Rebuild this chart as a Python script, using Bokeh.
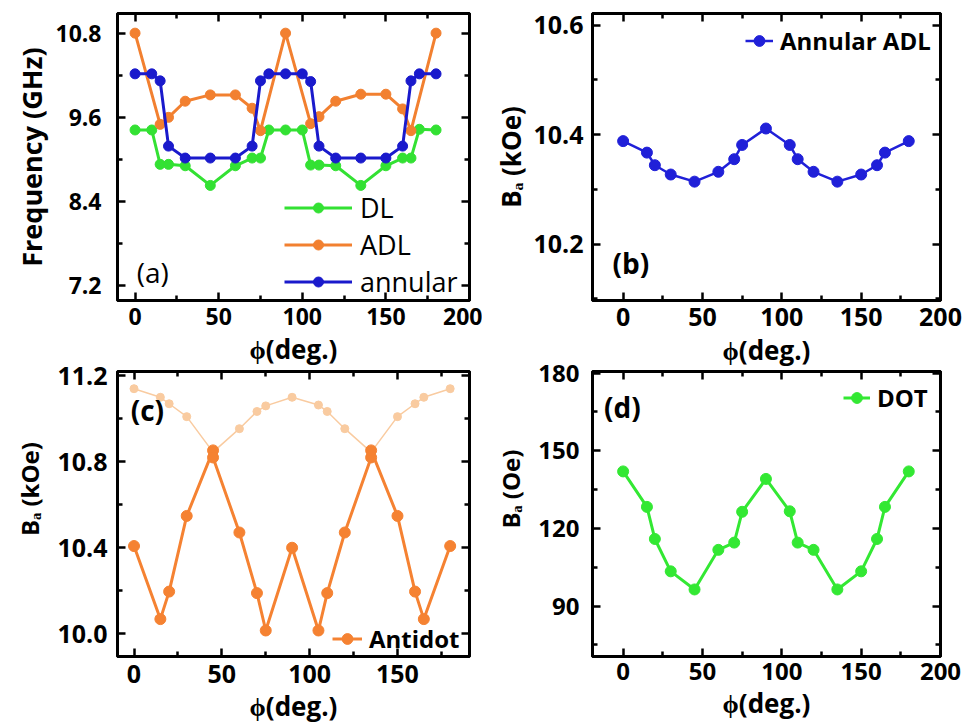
from bokeh.plotting import figure
from bokeh.models import (LinearAxis, FixedTicker, Legend, LegendItem, Label, Range1d,
                          CustomLabelingPolicy, GridBox)
from bokeh.embed import file_html
from bokeh.resources import INLINE

FONT = "Open Sans"

# ---------------- data ----------------
# panel (a)
a_phi_dl = [0, 10, 15, 20, 30, 45, 60, 70, 75, 80, 90, 100, 105, 110, 120, 135, 150, 160, 165, 170, 180]
a_f_dl = [9.42, 9.42, 8.93, 8.93, 8.91, 8.63, 8.91, 9.02, 9.02, 9.42, 9.42, 9.42, 8.92, 8.92, 8.91, 8.63, 8.91, 9.02, 9.02, 9.43, 9.42]
a_phi_adl = [0, 15, 20, 30, 45, 60, 70, 75, 90, 105, 110, 120, 135, 150, 160, 165, 180]
a_f_adl = [10.8, 9.5, 9.6, 9.83, 9.92, 9.92, 9.73, 9.41, 10.8, 9.51, 9.61, 9.83, 9.93, 9.93, 9.72, 9.41, 10.8]
a_phi_ann = [0, 10, 15, 20, 30, 45, 60, 70, 75, 80, 90, 100, 105, 110, 120, 135, 150, 160, 165, 170, 180]
a_f_ann = [10.22, 10.22, 10.12, 9.19, 9.02, 9.02, 9.02, 9.19, 10.12, 10.22, 10.22, 10.22, 10.11, 9.19, 9.02, 9.02, 9.02, 9.19, 10.12, 10.22, 10.22]
a_yticks = [7.2, 8.4, 9.6, 10.8]
a_ytick_labels = ["7.2", "8.4", "9.6", "10.8"]

# panel (b)
b_phi = [0, 15, 20, 30, 45, 60, 70, 75, 90, 105, 110, 120, 135, 150, 160, 165, 180]
b_ba = [10.388, 10.367, 10.344, 10.327, 10.314, 10.332, 10.355, 10.381, 10.411, 10.381, 10.355, 10.332, 10.314, 10.327, 10.344, 10.367, 10.388]
b_yticks = [10.2, 10.4, 10.6]
b_ytick_labels = ["10.2", "10.4", "10.6"]

# panel (c)
c_phi = [0, 15, 20, 30, 45, 45, 60, 70, 75, 90, 105, 110, 120, 135, 135, 150, 160, 165, 180]
c_ba = [10.408, 10.068, 10.196, 10.548, 10.853, 10.82, 10.471, 10.189, 10.015, 10.40, 10.015, 10.189, 10.471, 10.82, 10.853, 10.548, 10.196, 10.068, 10.408]
c_phi_light = [0, 15, 20, 30, 45, 60, 70, 75, 90, 105, 110, 120, 135, 150, 160, 165, 180]
c_ba_light = [11.14, 11.10, 11.07, 11.01, 10.845, 10.954, 11.034, 11.06, 11.10, 11.064, 11.034, 10.954, 10.845, 11.01, 11.07, 11.10, 11.14]
c_yticks = [10.0, 10.4, 10.8, 11.2]
c_ytick_labels = ["10.0", "10.4", "10.8", "11.2"]

# panel (d)
d_phi = [0, 15, 20, 30, 45, 60, 70, 75, 90, 105, 110, 120, 135, 150, 160, 165, 180]
d_ba = [142, 128.3, 115.9, 103.4, 96.4, 111.7, 114.5, 126.4, 139.1, 126.6, 114.5, 111.7, 96.4, 103.4, 115.9, 128.3, 142]
d_yticks = [90, 120, 150, 180]
d_ytick_labels = ["90", "120", "150", "180"]

xticks = [0, 50, 100, 150, 200]
xtick_labels = ["0", "50", "100", "150", "200"]

GREEN = "#33e133"
ORANGE = "#f28030"
BLUE = "#1a1acc"
LIGHT = "#f9cba0"


def minors(t):
    step = t[1] - t[0]
    return [t[0] - step / 2] + [(t[i] + t[i + 1]) / 2 for i in range(len(t) - 1)] + [t[-1] + step / 2]


HIDE = "for (const i of [...indices]) { indices.unset(i) } return indices"


def make_fig(width, height, borders, xr, yr, yticks, ylabels, ylabel, tick_size="24px",
             ylab_size="24px", xlab_size="26px", ystand=14, ylabstand=4, xstand=7, xlabstand=3):
    l, r, t, b = borders
    p = figure(width=width, height=height, x_range=Range1d(*xr), y_range=Range1d(*yr),
               output_backend="svg", toolbar_location=None,
               min_border_left=l, min_border_right=r, min_border_top=t, min_border_bottom=b)
    p.grid.visible = False
    p.outline_line_color = "black"
    p.outline_line_width = 3
    p.background_fill_color = "white"
    p.border_fill_alpha = 0
    xt = FixedTicker(ticks=xticks, minor_ticks=minors(xticks))
    yt = FixedTicker(ticks=yticks, minor_ticks=minors(yticks))
    p.add_layout(LinearAxis(), "above")
    p.add_layout(LinearAxis(), "right")
    for ax in p.xaxis:
        ax.ticker = xt
    for ax in p.yaxis:
        ax.ticker = yt
    for ax in list(p.xaxis) + list(p.yaxis):
        ax.axis_line_width = 3
        ax.axis_line_color = "black"
        ax.major_tick_in = 8
        ax.major_tick_out = 0
        ax.minor_tick_in = 5
        ax.minor_tick_out = 0
        ax.major_tick_line_width = 2.5
        ax.minor_tick_line_width = 2.5
        ax.major_tick_line_color = "black"
        ax.minor_tick_line_color = "black"
        ax.major_label_text_font = FONT
        ax.major_label_text_font_style = "bold"
        ax.major_label_text_color = "black"
        ax.axis_label_text_font = FONT
        ax.axis_label_text_font_style = "bold"
        ax.axis_label_text_color = "black"
    for ax in (p.above[0], p.right[0]):
        ax.major_label_text_font_size = "0px"
        ax.major_label_standoff = 0
        ax.major_label_policy = CustomLabelingPolicy(code=HIDE)
    bx = p.below[0]
    bx.major_label_text_font_size = tick_size
    bx.major_label_overrides = dict(zip(xticks, xtick_labels))
    bx.major_label_standoff = xstand
    bx.axis_label = "\u03d5(deg.)"
    bx.axis_label_text_font_size = xlab_size
    bx.axis_label_standoff = xlabstand
    ly = p.left[0]
    ly.major_label_text_font_size = tick_size
    ly.major_label_overrides = dict(zip(yticks, ylabels))
    ly.major_label_standoff = ystand
    ly.axis_label = ylabel
    ly.axis_label_text_font_size = ylab_size
    ly.axis_label_standoff = ylabstand
    return p


def series(p, x, y, color, size=10, lw=3):
    rl = p.line(x, y, line_color=color, line_width=lw)
    rs = p.scatter(x, y, size=size, fill_color=color, line_color=color)
    return [rl, rs]


def legend(p, items, loc, glyph_w, size="24px", style="bold", h=34, gh=27, spacing=0, standoff=7):
    lg = Legend(items=items, location=loc, glyph_width=glyph_w, glyph_height=gh, label_height=h,
                spacing=spacing, padding=0, margin=0, label_standoff=standoff,
                label_text_font=FONT, label_text_font_size=size, label_text_font_style=style,
                label_text_color="black", border_line_alpha=0, background_fill_alpha=0)
    p.add_layout(lg)


def panel_label(p, x, y, text, style="bold", size="28px"):
    p.add_layout(Label(x=x, y=y, text=text, text_font=FONT, text_font_size=size, text_color="black",
                       text_font_style=style, text_baseline="middle", text_align="left"))


# ---------------- (a) ----------------  screen box x 0..482, y 0..375
pa = make_fig(482, 375, (115, 13, 13, 73), (-10.5, 200), (6.99, 11.08), a_yticks, a_ytick_labels,
              "Frequency (GHz)", tick_size="23px", ylab_size="27px", ystand=16, ylabstand=2)
r_dl = series(pa, a_phi_dl, a_f_dl, GREEN)
r_adl = series(pa, a_phi_adl, a_f_adl, ORANGE)
r_ann = series(pa, a_phi_ann, a_f_ann, BLUE)
legend(pa, [LegendItem(label="DL", renderers=r_dl), LegendItem(label="ADL", renderers=r_adl),
            LegendItem(label="annular", renderers=r_ann)], (167, 0), 68, size="27px",
       style="normal", h=37, gh=25, standoff=8)
panel_label(pa, 1, 7.39, "(a)", style="normal", size="28px")

# ---------------- (b) ----------------  screen box x 482..968, y 0..375
pb = make_fig(486, 375, (105, 28, 12, 75), (-19.3, 200), (10.097, 10.621), b_yticks, b_ytick_labels,
              "B\u2090 (kOe)", tick_size="25px", ylab_size="26px", ystand=9, ylabstand=1,
              xstand=7, xlabstand=3)
r_b = series(pb, b_phi, b_ba, "#2020d8", size=11, lw=2.5)
legend(pb, [LegendItem(label="Annular ADL", renderers=r_b)], (153, 243), 28)
panel_label(pb, -6.7, 10.165, "(b)")

# ---------------- (c) ----------------  screen box x 0..482, y 350..726
NB = "\u00a0" * 8
pc = make_fig(482, 376, (117, 10, 21, 66), (-9.4, 191), (9.894, 11.22), c_yticks, c_ytick_labels,
              NB + "B\u2090 (kOe)", tick_size="25px", ystand=10, ylabstand=8, xstand=8, xlabstand=2)
pc.line(c_phi_light, c_ba_light, line_color=LIGHT, line_width=1.5)
pc.scatter(c_phi_light, c_ba_light, size=8, fill_color=LIGHT, line_color=LIGHT)
r_c = series(pc, c_phi, c_ba, "#f58232", size=11, lw=3)
legend(pc, [LegendItem(label="Antidot", renderers=r_c)], (215, 1), 30)
panel_label(pc, -1.9, 11.04, "(c)")

# ---------------- (d) ----------------  screen box x 482..968, y 350..726
pd_ = make_fig(486, 376, (110, 25, 18, 70), (-19.3, 200), (70.5, 180.6), d_yticks, d_ytick_labels,
               NB + "B\u2090 (Oe)", tick_size="24px", ystand=13, ylabstand=8, xstand=6, xlabstand=2)
r_d = series(pd_, d_phi, d_ba, "#33e833", size=11, lw=3)
legend(pd_, [LegendItem(label="DOT", renderers=r_d)], (251, 242), 27)
panel_label(pd_, -12.1, 167, "(d)")

grid = GridBox(children=[(pa, 0, 0, 2, 1), (pb, 0, 1, 2, 1), (pc, 1, 0, 2, 1), (pd_, 1, 1, 2, 1)],
               rows=["350px", "25px", "351px"], cols=["482px", "486px"])
open("out.html", "w").write(file_html(grid, INLINE))
